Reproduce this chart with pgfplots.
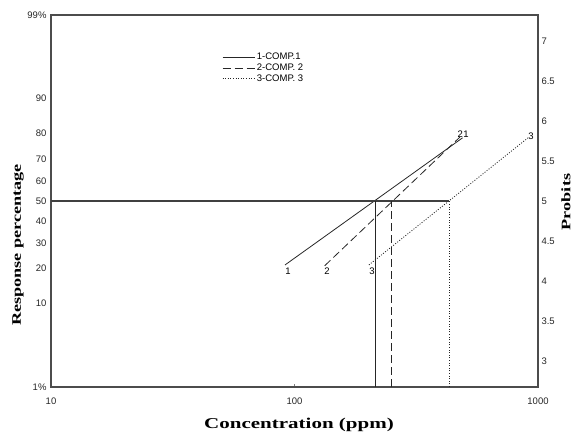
\documentclass[border=0pt]{standalone}
\usepackage{fontspec}
\setmainfont{Liberation Sans}
\newfontfamily\labelfont[FakeStretch=1.4]{Liberation Serif}
\usepackage{pgfplots}
\pgfplotsset{compat=1.18}
\begin{document}
\begin{tikzpicture}
\begin{axis}[name=ax, at={(0pt,0pt)}, anchor=south west, scale only axis,
  width=487pt, height=372pt,
  xmode=log, xmin=10, xmax=1000, ymin=2.674, ymax=7.326,
  xtick={10,100,1000}, xticklabels={10,100,1000}, xminorticks=false,
  xtick pos=bottom, xtick align=inside, major tick length=3pt,
  ytick={2.674,3.718,4.158,4.476,4.747,5,5.253,5.524,5.842,6.282,7.326},
  yticklabels={1\%,10,20,30,40,50,60,70,80,90,99\%},
  ytick pos=left, ytick style={draw=none},
  tick label style={font=\fontsize{9.5}{11}\selectfont, text=black!85},
  xticklabel style={yshift=-7pt},
  yticklabel style={xshift=-1pt},
  axis line style={black!70, line width=1.1pt},
  legend style={at={(0.351,0.903)}, anchor=north west, draw=none, fill=none,
    font=\fontsize{9.5}{10}\selectfont, row sep=-1.5pt, inner sep=0pt},
  legend cell align=left,
  legend image code/.code={\draw[#1] (0pt,0pt) -- (32pt,0pt);},
]
\addplot[black!85, line width=0.8pt] coordinates {(91.4,4.2) (490,5.79)};
\addlegendentry{1-COMP.1}
\addplot[black!85, line width=0.8pt, dash pattern=on 8pt off 4pt] coordinates {(133,4.19) (478,5.8)};
\addlegendentry{2-COMP. 2}
\addplot[black!85, line width=0.8pt, dash pattern=on 1pt off 1.6pt] coordinates {(202,4.2) (910,5.79)};
\addlegendentry{3-COMP. 3}
\addplot[forget plot, black!75, line width=1.1pt] coordinates {(10,5) (431,5)};
\addplot[forget plot, black!85, line width=0.9pt] coordinates {(214,2.674) (214,5)};
\addplot[forget plot, black!85, line width=0.9pt, dash pattern=on 8pt off 4pt] coordinates {(251,2.674) (251,5)};
\addplot[forget plot, black!85, line width=0.9pt, dash pattern=on 1pt off 1.6pt] coordinates {(431,2.674) (431,5)};
\node[font=\fontsize{9.5}{10}\selectfont] at (axis cs:94,4.12) {1};
\node[font=\fontsize{9.5}{10}\selectfont] at (axis cs:136,4.12) {2};
\node[font=\fontsize{9.5}{10}\selectfont] at (axis cs:208,4.12) {3};
\node[font=\fontsize{9.5}{10}\selectfont] at (axis cs:479,5.84) {2};
\node[font=\fontsize{9.5}{10}\selectfont] at (axis cs:506,5.84) {1};
\node[font=\fontsize{9.5}{10}\selectfont] at (axis cs:935,5.81) {3};
\end{axis}
\begin{axis}[at={(0pt,0pt)}, anchor=south west, scale only axis,
  width=487pt, height=372pt,
  xmode=log, xmin=10, xmax=1000, ymin=2.674, ymax=7.326,
  axis x line=none, axis y line*=right,
  ytick={3,3.5,4,4.5,5,5.5,6,6.5,7},
  yticklabels={3,3.5,4,4.5,5,5.5,6,6.5,7},
  ytick style={draw=none},
  tick label style={font=\fontsize{9.5}{11}\selectfont, text=black!85},
  axis line style={black!70, line width=1.1pt},
]
\addplot[draw=none] coordinates {(10,5) (1000,5)};
\end{axis}
\node[font=\labelfont\fontsize{13}{15}\selectfont\bfseries, rotate=90] at (-33pt,142pt) {Response percentage};
\node[font=\labelfont\fontsize{15}{18}\selectfont\bfseries] at (248pt,-38pt) {Concentration (ppm)};
\node[font=\labelfont\fontsize{13}{15}\selectfont\bfseries, rotate=90] at (515pt,185pt) {Probits};
\pgfresetboundingbox
\useasboundingbox (-51pt,-54pt) rectangle (521pt,387pt);
\end{tikzpicture}
\end{document}
